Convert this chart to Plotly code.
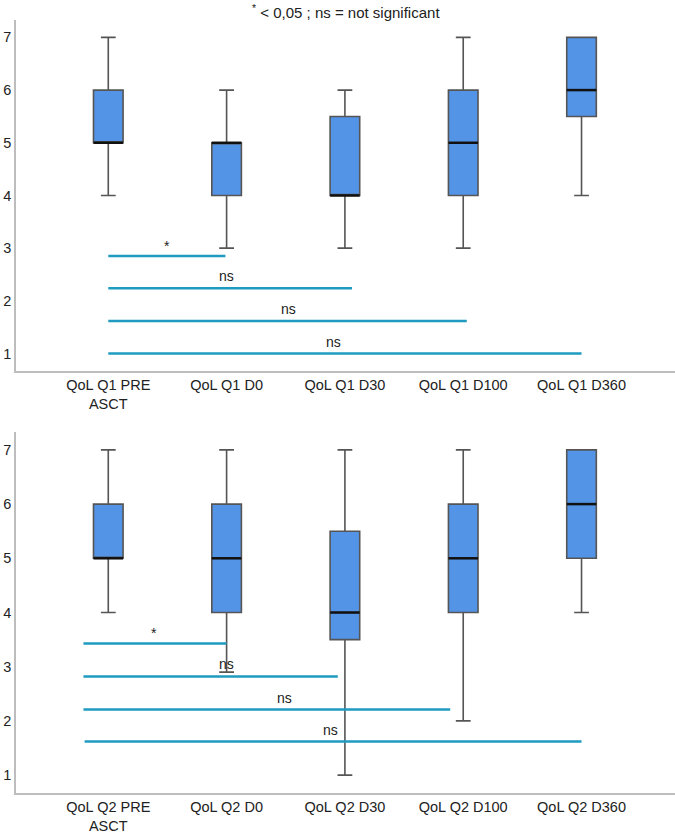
import plotly.graph_objects as go

# ---------------- data ----------------
x_pos = [0, 1, 2, 3, 4]
labels_q1 = ["QoL Q1 PRE<br>ASCT", "QoL Q1 D0", "QoL Q1 D30", "QoL Q1 D100", "QoL Q1 D360"]
labels_q2 = ["QoL Q2 PRE<br>ASCT", "QoL Q2 D0", "QoL Q2 D30", "QoL Q2 D100", "QoL Q2 D360"]

q1_low = [4, 3, 3, 3, 4]
q1_q1 = [5, 4, 4, 4, 5.5]
q1_med = [5, 5, 4, 5, 6]
q1_q3 = [6, 5, 5.5, 6, 7]
q1_high = [7, 6, 6, 7, 7]

q2_low = [4, 2.9, 1, 2, 4]
q2_q1 = [5, 4, 3.5, 4, 5]
q2_med = [5, 5, 4, 5, 6]
q2_q3 = [6, 6, 5.5, 6, 7]
q2_high = [7, 7, 7, 7, 7]

# significance bars: y level, x start, x end, label, label x
sig1_y = [2.85, 2.24, 1.62, 1.0]
sig1_x0 = [0, 0, 0, 0]
sig1_x1 = [0.99, 2.06, 3.03, 4.0]
sig1_lab = ["*", "ns", "ns", "ns"]
sig1_labx = [0.5, 1.0, 1.52, 1.9]

sig2_y = [3.43, 2.82, 2.21, 1.62]
sig2_x0 = [-0.21, -0.21, -0.21, -0.2]
sig2_x1 = [1.0, 1.94, 2.89, 4.0]
sig2_lab = ["*", "ns", "ns", "ns"]
sig2_labx = [0.39, 1.0, 1.49, 1.88]

title_text = "<sup>*</sup> < 0,05 ; ns = not significant"

# ---------------- style ----------------
BOX_FILL = "#5394e6"
BOX_LINE = "#555555"
SIG_COLOR = "#1f9bc0"
AXIS_COLOR = "#bdbdbd"
FONT = "Liberation Sans, Arial, Helvetica, sans-serif"
BOX_W = 0.25

fig = go.Figure()


def add_panel(xa, ya, low, q1, med, q3, high, sy, sx0, sx1, slab, slabx):
    fig.add_trace(go.Box(
        x=x_pos, lowerfence=low, q1=q1, median=med, q3=q3, upperfence=high,
        width=BOX_W, whiskerwidth=0.5, fillcolor=BOX_FILL,
        line=dict(color=BOX_LINE, width=1.6), boxpoints=False,
        xaxis=xa, yaxis=ya, showlegend=False, hoverinfo="skip",
    ))
    for xi, m in zip(x_pos, med):
        fig.add_trace(go.Scatter(
            x=[xi - BOX_W / 2, xi + BOX_W / 2], y=[m, m], mode="lines",
            line=dict(color="#111111", width=2.5), xaxis=xa, yaxis=ya,
            showlegend=False, hoverinfo="skip",
        ))
    for y, a, b, lab, lx in zip(sy, sx0, sx1, slab, slabx):
        fig.add_trace(go.Scatter(
            x=[a, b], y=[y, y], mode="lines",
            line=dict(color=SIG_COLOR, width=2.5), xaxis=xa, yaxis=ya,
            showlegend=False, hoverinfo="skip",
        ))
        fig.add_annotation(
            x=lx, y=y, xref=xa, yref=ya, text=lab, showarrow=False,
            yshift=12 if lab == "ns" else 10,
            font=dict(size=14, color="#222222", family=FONT),
        )


add_panel("x", "y", q1_low, q1_q1, q1_med, q1_q3, q1_high,
          sig1_y, sig1_x0, sig1_x1, sig1_lab, sig1_labx)
add_panel("x2", "y2", q2_low, q2_q1, q2_med, q2_q3, q2_high,
          sig2_y, sig2_x0, sig2_x1, sig2_lab, sig2_labx)

xcommon = dict(range=[-0.78, 4.79], tickvals=x_pos, showgrid=False, zeroline=False,
               showline=True, linecolor=AXIS_COLOR, linewidth=1.5, ticks="",
               automargin=False,
               tickfont=dict(size=14.5, color="#222222", family=FONT))
ycommon = dict(range=[0.67, 7.33], tickvals=[1, 2, 3, 4, 5, 6, 7], showgrid=False,
               zeroline=False, showline=True, linecolor=AXIS_COLOR, linewidth=1.5,
               ticks="", automargin=False, ticklabelstandoff=0,
               tickfont=dict(size=14.5, color="#222222", family=FONT))

fig.update_layout(
    width=675, height=836,
    margin=dict(l=16, r=0, t=20, b=43, autoexpand=False),
    paper_bgcolor="white", plot_bgcolor="white",
    xaxis=dict(**xcommon, ticktext=labels_q1, anchor="y", domain=[0, 1]),
    yaxis=dict(**ycommon, anchor="x", domain=[0.546, 1]),
    xaxis2=dict(**xcommon, ticktext=labels_q2, anchor="y2", domain=[0, 1]),
    yaxis2=dict(**ycommon, anchor="x2", domain=[0, 0.467]),
    font=dict(family=FONT),
)

fig.add_annotation(
    x=0.5, y=1.0105, xref="paper", yref="paper", text=title_text, showarrow=False,
    yanchor="middle", font=dict(size=15, color="#222222", family=FONT),
)

fig.write_html(
    "out.html",
    config={"displayModeBar": False},
    post_script="document.body.style.margin='0';document.body.style.padding='0';"
                "document.documentElement.style.overflow='hidden';",
)
